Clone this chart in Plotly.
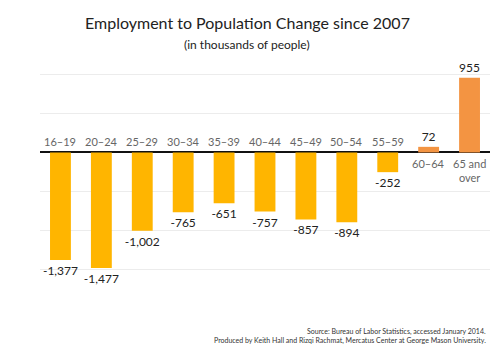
import plotly.graph_objects as go

categories = ["16–19", "20–24", "25–29", "30–34", "35–39", "40–44", "45–49", "50–54", "55–59", "60–64", "65 and<br>over"]
values = [-1377, -1477, -1002, -765, -651, -757, -857, -894, -252, 72, 955]
neg_color = "#FFB500"
pos_color = "#F39442"
colors = [neg_color if v < 0 else pos_color for v in values]
value_text = [f"{v:,}" for v in values]

FONT = "Lato"

fig = go.Figure()
fig.add_trace(go.Bar(
    x=list(range(len(categories))), y=values,
    marker=dict(color=colors, line=dict(width=0)),
    text=value_text, textposition="outside", cliponaxis=False, constraintext="none",
    textfont=dict(family=FONT, size=12, color="#222"),
    width=0.51,
))

annotations = []
for i, (c, v) in enumerate(zip(categories, values)):
    annotations.append(dict(
        x=i, y=0, xref="x", yref="y", text=c, showarrow=False,
        yanchor="bottom" if v < 0 else "top", yshift=2 if v < 0 else -3,
        font=dict(family=FONT, size=11, color="#666"), align="center",
    ))

annotations += [
    dict(xref="paper", yref="paper", x=0.46, y=1.0, yshift=13, text="Employment to Population Change since 2007",
         showarrow=False, font=dict(family=FONT, size=16, color="#222"), xanchor="center", yanchor="middle"),
    dict(xref="paper", yref="paper", x=0.46, y=1.0, yshift=-9, text="(in thousands of people)",
         showarrow=False, font=dict(family=FONT, size=12, color="#222"), xanchor="center", yanchor="middle"),
    dict(xref="paper", yref="paper", x=0.9956, y=0, yshift=-22,
         text="Source: Bureau of Labor Statistics, accessed January 2014.",
         showarrow=False, font=dict(family=FONT, size=7, color="#333"), xanchor="right", yanchor="middle"),
    dict(xref="paper", yref="paper", x=0.9956, y=0, yshift=-31,
         text="Produced by Keith Hall and Rizqi Rachmat, Mercatus Center at George Mason University.",
         showarrow=False, font=dict(family=FONT, size=7, color="#333"), xanchor="right", yanchor="middle"),
]

fig.update_layout(
    width=484, height=347,
    margin=dict(l=32, r=2, t=27, b=46),
    paper_bgcolor="white", plot_bgcolor="white",
    showlegend=False,
    xaxis=dict(range=[-0.5, len(categories) - 0.5], showticklabels=False, showgrid=False, zeroline=False, ticks=""),
    yaxis=dict(range=[-2003, 1503], dtick=500, showticklabels=False, showgrid=True, gridcolor="#ececec", gridwidth=1,
               zeroline=True, zerolinecolor="#111", zerolinewidth=2, ticks=""),
    annotations=annotations,
)
fig.write_html("out.html")
